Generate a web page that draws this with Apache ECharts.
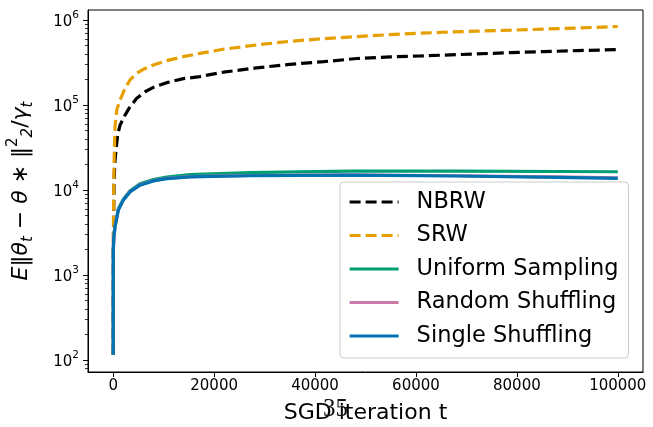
<!DOCTYPE html>
<html>
<head>
<meta charset="utf-8">
<script src="https://cdn.jsdelivr.net/npm/echarts@6/dist/echarts.min.js"></script>
<style>
  html, body { margin: 0; padding: 0; background: #fff; }
  #chart { width: 653px; height: 427px; }
</style>
</head>
<body>
<div id="chart"></div>
<script>
// Iterations at which each run was sampled
const iterNBRW = [0, 30, 80, 160, 300, 550, 900, 1350, 2340, 3330, 4660, 6300, 7950, 10600, 13900, 17200, 21800, 28400, 35000, 41700, 48300, 54900, 60800, 65400, 72100, 78700, 85200, 91900, 100000];
const nbrw = [115, 1500, 5000, 12000, 20000, 30000, 45000, 58000, 76000, 95500, 120000, 143000, 161000, 183000, 204000, 216000, 243000, 273000, 301000, 323000, 352000, 368000, 377000, 386000, 399000, 413000, 424000, 436000, 448000];

const iterSRW = [0, 30, 80, 160, 360, 690, 1350, 2340, 3330, 4660, 5970, 7950, 10600, 13900, 17200, 21800, 28400, 35000, 41700, 48300, 54900, 60800, 65400, 72100, 78700, 85200, 91900, 100000];
const srw = [115, 2500, 8000, 20000, 55600, 87000, 114500, 157000, 197000, 236000, 263000, 296000, 332000, 370000, 405000, 452000, 508000, 561000, 603000, 637000, 673000, 698000, 717000, 738000, 758000, 780000, 803000, 838000];

const iterShuffle = [0, 20, 100, 360, 1010, 2000, 3330, 5300, 7950, 10600, 15200, 27100, 46900, 68100, 87900, 100000];
const uniformSampling = [115, 1980, 2800, 3800, 6000, 7800, 9800, 11800, 13300, 14200, 15200, 16000, 16700, 16700, 16500, 16400];
const randomShuffling = [115, 1970, 2750, 3720, 5850, 7650, 9600, 11500, 12900, 13700, 14400, 14800, 15100, 14700, 14250, 13850];
const singleShuffling = [115, 1960, 2700, 3700, 5800, 7600, 9500, 11400, 12800, 13600, 14300, 14700, 15000, 14600, 14100, 13700];

const xTicks = [0, 20000, 40000, 60000, 80000, 100000];
const yTicks = [100, 1000, 10000, 100000, 1000000];
const yMinorTicks = [];
for (let e = 1; e <= 5; e++) {
  for (let m = 2; m <= 9; m++) yMinorTicks.push(m * Math.pow(10, e));
}

const FONT = 'DejaVu Sans';
const Y_MIN = 72.3, Y_MAX = 1.31e6;
const LINE_W = 3.2;

const pairs = (xs, ys) => xs.map((x, i) => [x, ys[i]]);

const chart = echarts.init(document.getElementById('chart'), null, { renderer: 'canvas' });

function lineSeries(name, xs, ys, color, dashed) {
  return {
    name: name,
    type: 'line',
    data: pairs(xs, ys),
    showSymbol: false,
    symbol: 'circle',
    smooth: false,
    lineStyle: { color: color, width: LINE_W, type: dashed ? [11, 5] : 'solid', cap: 'butt' },
    itemStyle: { color: color },
    emphasis: { disabled: true },
    xAxisIndex: 0,
    yAxisIndex: 0
  };
}

const option = {
  animation: false,
  backgroundColor: '#ffffff',
  textStyle: { fontFamily: FONT, color: '#000' },
  grid: {
    left: 88, right: 10, top: 10, bottom: 55,
    show: true, borderColor: '#000', borderWidth: 1,
    containLabel: false,
    outerBoundsMode: 'none'
  },
  title: {
    text: '35',
    left: 318,
    top: 392,
    textStyle: { fontFamily: 'Liberation Serif', fontSize: 25, fontWeight: 'normal', color: '#111' }
  },
  legend: {
    orient: 'vertical',
    left: 340,
    top: 182,
    padding: [8, 10, 10, 8],
    itemGap: 9.5,
    itemWidth: 49,
    itemHeight: 14,
    backgroundColor: 'rgba(255,255,255,0.8)',
    borderColor: '#cccccc',
    borderWidth: 1,
    borderRadius: 4,
    itemStyle: { opacity: 0 },
    lineStyle: { width: LINE_W },
    textStyle: { fontFamily: FONT, fontSize: 22.5, color: '#000', lineHeight: 24, padding: [0, 0, 0, 13] },
    data: ['NBRW', 'SRW', 'Uniform Sampling', 'Random Shuffling', 'Single Shuffling']
  },
  xAxis: {
    type: 'value',
    min: -5000,
    max: 105000,
    splitLine: { show: false },
    axisLine: { show: true, onZero: false, lineStyle: { color: '#000', width: 1 } },
    axisTick: { show: true, length: 5, lineStyle: { color: '#000', width: 1 }, customValues: xTicks },
    axisLabel: {
      show: true, fontFamily: FONT, fontSize: 15, color: '#000', margin: 7,
      customValues: xTicks,
      formatter: function (v) { return String(Math.round(v)); }
    },
    name: 'SGD iteration t',
    nameLocation: 'middle',
    nameGap: 30,
    nameTextStyle: { fontFamily: FONT, fontSize: 22, color: '#000' }
  },
  yAxis: [
    {
      type: 'log',
      logBase: 10,
      min: Y_MIN,
      max: Y_MAX,
      splitLine: { show: false },
      minorSplitLine: { show: false },
      axisLine: { show: true, onZero: false, lineStyle: { color: '#000', width: 1 } },
      axisTick: { show: true, length: 5, lineStyle: { color: '#000', width: 1 }, customValues: yTicks },
      axisLabel: {
        show: true,
        margin: 9,
        customValues: yTicks,
        formatter: function (v) {
          const e = Math.round(Math.log10(v));
          return '{b|10}{e|' + e + '}';
        },
        rich: {
          b: { fontFamily: FONT, fontSize: 15, color: '#000', lineHeight: 20, verticalAlign: 'bottom' },
          e: { fontFamily: FONT, fontSize: 10.5, color: '#000', lineHeight: 20, verticalAlign: 'top' }
        }
      },
      name: '{i|E}‖{i|θ}{s|t} − {i|θ} ∗ ‖{p|2}{s|2}/{i|γ}{s|t}',
      nameLocation: 'middle',
      nameRotate: 90,
      nameGap: 52,
      nameTextStyle: {
        fontFamily: FONT,
        fontSize: 22,
        color: '#000',
        rich: {
          i: { fontFamily: FONT, fontStyle: 'italic', fontSize: 22, color: '#000', lineHeight: 30, verticalAlign: 'middle' },
          s: { fontFamily: FONT, fontStyle: 'italic', fontSize: 15, color: '#000', lineHeight: 30, verticalAlign: 'bottom' },
          p: { fontFamily: FONT, fontSize: 15, color: '#000', lineHeight: 30, verticalAlign: 'top' }
        }
      }
    },
    {
      // minor decade subdivisions (2..9 x 10^k)
      type: 'log',
      logBase: 10,
      min: Y_MIN,
      max: Y_MAX,
      position: 'left',
      splitLine: { show: false },
      axisLine: { show: false, onZero: false },
      axisTick: { show: true, length: 3, lineStyle: { color: '#000', width: 0.8 }, customValues: yMinorTicks },
      axisLabel: { show: false }
    }
  ],
  series: [
    lineSeries('NBRW', iterNBRW, nbrw, '#000000', true),
    lineSeries('SRW', iterSRW, srw, '#E69F00', true),
    lineSeries('Uniform Sampling', iterShuffle, uniformSampling, '#009E73', false),
    lineSeries('Random Shuffling', iterShuffle, randomShuffling, '#CC79A7', false),
    lineSeries('Single Shuffling', iterShuffle, singleShuffling, '#0072B2', false)
  ]
};

chart.setOption(option);
</script>
</body>
</html>
